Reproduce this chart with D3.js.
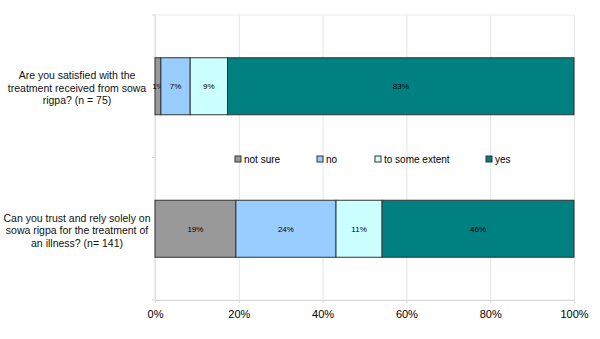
<!DOCTYPE html>
<html>
<head>
<meta charset="utf-8">
<title>Sowa rigpa survey</title>
<script src="https://d3js.org/d3.v7.min.js"></script>
<style>
  body { margin: 0; background: #fff; }
  text { font-family: "Liberation Sans", Arial, sans-serif; fill: #000; }
  .grid line { stroke: #e4e4e4; }
  .grid path { display: none; }
  .xaxis path, .xaxis line { stroke: #d8d8d8; }
  .xaxis text { font-size: 11px; }
</style>
</head>
<body>
<div id="chart"></div>
<script>
// data
var questions = [
  ["Are you satisfied with the", "treatment received from sowa", "rigpa? (n = 75)"],
  ["Can you trust and rely solely on", "sowa rigpa for the treatment of", "an illness? (n= 141)"]
];
var answers = ["not sure", "no", "to some extent", "yes"];
var notSure = [1.4, 19.3];
var no = [7.0, 23.9];
var someExtent = [8.9, 11.0];
var yes = [82.7, 45.8];
var ticks = [0, 20, 40, 60, 80, 100];
var colors = ["#999999", "#99ccff", "#ccffff", "#008080"];

var width = 600, height = 339;
var margin = {top: 15, right: 26, bottom: 39, left: 155};

var svg = d3.select("#chart").append("svg")
    .attr("width", width)
    .attr("height", height);

var x = d3.scaleLinear()
    .domain([0, 100])
    .range([margin.left, width - margin.right]);

var y = d3.scaleBand()
    .domain(d3.range(questions.length))
    .range([margin.top, height - margin.bottom])
    .paddingInner(0.6)
    .paddingOuter(0.3);

// gridlines
svg.append("g")
    .attr("class", "grid")
    .attr("transform", "translate(0," + margin.top + ")")
    .call(d3.axisBottom(x).tickValues(ticks).tickSize(height - margin.bottom - margin.top).tickFormat(""));

// left axis line and category ticks
var bandEdges = [margin.top, (margin.top + height - margin.bottom) / 2, height - margin.bottom];
svg.append("line")
    .attr("x1", margin.left).attr("x2", margin.left)
    .attr("y1", margin.top).attr("y2", height - margin.bottom)
    .attr("stroke", "#d8d8d8");
svg.selectAll(".ytick")
    .data(bandEdges)
    .enter().append("line")
    .attr("x1", margin.left - 3).attr("x2", x(100))
    .attr("y1", function(d) { return d; }).attr("y2", function(d) { return d; })
    .attr("stroke", function(d, i) { return i == 1 ? "none" : "#ececec"; });
svg.selectAll(".ytickl")
    .data(bandEdges)
    .enter().append("line")
    .attr("x1", margin.left - 3).attr("x2", margin.left)
    .attr("y1", function(d) { return d; }).attr("y2", function(d) { return d; })
    .attr("stroke", "#d8d8d8");

// x axis
svg.append("g")
    .attr("class", "xaxis")
    .attr("transform", "translate(0," + (height - margin.bottom) + ")")
    .call(d3.axisBottom(x).tickValues(ticks).tickSize(3).tickPadding(7)
        .tickFormat(function(d) { return d + "%"; }));

// stack the series
var rows = questions.map(function(q, i) {
    return {"not sure": notSure[i], "no": no[i], "to some extent": someExtent[i], "yes": yes[i], idx: i};
});
var stacked = d3.stack().keys(answers)(rows);

var layers = svg.selectAll(".layer")
    .data(stacked)
    .enter().append("g")
    .attr("fill", function(d, i) { return colors[i]; });

layers.selectAll("rect")
    .data(function(d) { return d; })
    .enter().append("rect")
    .attr("x", function(d) { return x(d[0]); })
    .attr("y", function(d) { return y(d.data.idx); })
    .attr("width", function(d) { return x(d[1]) - x(d[0]); })
    .attr("height", y.bandwidth())
    .attr("stroke", "#333")
    .attr("stroke-width", 1);

layers.selectAll("text")
    .data(function(d) { return d; })
    .enter().append("text")
    .attr("x", function(d) { return (x(d[0]) + x(d[1])) / 2; })
    .attr("y", function(d) { return y(d.data.idx) + y.bandwidth() / 2 + 3; })
    .attr("text-anchor", "middle")
    .style("font-size", "8px")
    .style("fill", "#000")
    .text(function(d) { return Math.round(d[1] - d[0]) + "%"; });

// question labels
var qlab = svg.selectAll(".qlab")
    .data(questions)
    .enter().append("text")
    .attr("text-anchor", "middle")
    .style("font-size", "10.5px")
    .style("fill", "#111")
    .attr("y", function(d, i) { return y(i) + y.bandwidth() / 2 - 7; });
qlab.selectAll("tspan")
    .data(function(d) { return d; })
    .enter().append("tspan")
    .attr("x", 77)
    .attr("dy", function(d, i) { return i == 0 ? 0 : 12.5; })
    .text(function(d) { return d; });

// legend
var legendX = [235, 317, 375, 486];
var legend = svg.selectAll(".legend")
    .data(answers)
    .enter().append("g")
    .attr("transform", function(d, i) { return "translate(" + legendX[i] + ",156)"; });
legend.append("rect")
    .attr("width", 6).attr("height", 6)
    .attr("fill", function(d, i) { return colors[i]; })
    .attr("stroke", "#333");
legend.append("text")
    .attr("x", 9).attr("y", 7)
    .style("font-size", "10px")
    .text(function(d) { return d; });
</script>
</body>
</html>
